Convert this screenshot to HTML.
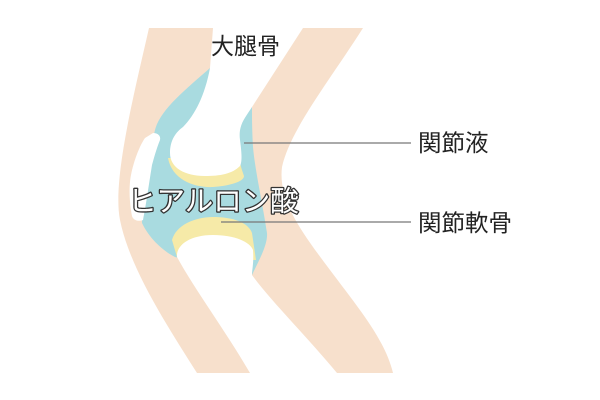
<!DOCTYPE html>
<html><head><meta charset="utf-8"><style>
html,body{margin:0;padding:0;background:#fff;width:600px;height:400px;overflow:hidden}
svg{display:block}
text{font-family:"Liberation Sans","Noto Sans CJK JP",sans-serif}
</style></head><body>
<svg width="600" height="400" viewBox="0 0 600 400">
<path d="M149,28 L363,28 C330,80 290,130 282,167 C278,200 300,230 330,270 C360,310 385,340 393,373 L197,373 C170,330 130,270 120,220 C112,180 135,90 149,28 Z" fill="#f7e0cc"/>
<path d="M210,68 C185,90 160,110 155,130 C150,150 148,165 148,177 C146,200 142,215 142,223 C150,240 165,252 175,257 L252,275 C258,262 268,245 267,233 C262,200 255,170 253,147 C252,130 252,118 252,107 Z" fill="#a9dbe0"/>
<path d="M168,158 C172,180 195,188 213,187 C228,186 244,182 244,176 C242,170 240,165 240,160 Z" fill="#f6eaa8"/>
<path d="M213,28 L303,28 L252,107 C245,118 238,125 240,140 C242,155 242,162 240,166 C232,174 220,176 205,176 C185,176 170,168 170,153 C170,140 176,132 183,127 C195,115 205,95 210,68 Z" fill="#fff"/>
<path d="M172,240 C176,225 195,217 213,217 C232,217 248,222 252,233 L256,260 L177,257 Z" fill="#f6eaa8"/>
<path d="M177,257 C176,245 190,235 213,235 C235,235 250,242 253,250 C254,262 252,270 252,275 C270,300 310,340 337,373 L250,373 C225,330 195,290 177,257 Z" fill="#fff"/>
<path d="M153,133 C158,133 161,136 160,140 C156,150 154,158 152,165 C148,190 146,205 143,220 C138,222 133,220 132,216 C129,200 129,185 131,175 C134,160 140,145 145,138 Z" fill="#fff"/>
<line x1="244" y1="143" x2="411" y2="143" stroke="#777" stroke-width="1.3"/>
<line x1="221" y1="222" x2="411" y2="222" stroke="#777" stroke-width="1.3"/>
<text x="211" y="54" font-size="23" fill="#222">大腿骨</text>
<text x="418" y="151" font-size="23.5" fill="#222">関節液</text>
<text x="418" y="231" font-size="23.5" fill="#222">関節軟骨</text>
<text x="128" y="211" font-size="28.5" fill="#fff" stroke="#333" stroke-width="2.6" paint-order="stroke" stroke-linejoin="round">ヒアルロン酸</text>
</svg>
</body></html>
